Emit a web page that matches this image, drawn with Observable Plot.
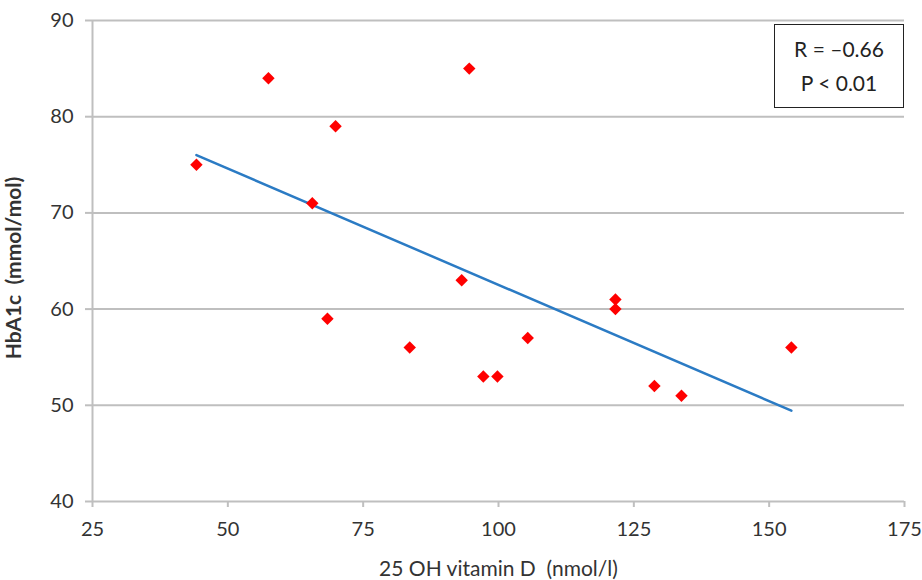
<!DOCTYPE html>
<html>
<head>
<meta charset="utf-8">
<script src="https://cdn.jsdelivr.net/npm/d3@7"></script>
<script src="https://cdn.jsdelivr.net/npm/@observablehq/plot@0.6"></script>
<style>
  html, body { margin: 0; padding: 0; background: #fff; }
  #wrap { position: relative; width: 922px; height: 580px; font-family: Lato, "Open Sans", sans-serif; }
  #stat {
    position: absolute; left: 774px; top: 24px; width: 130px; height: 84px;
    border: 1.5px solid #222; background: #fff; box-sizing: border-box;
    font-family: Lato, "Open Sans", sans-serif; font-size: 21px; color: #222;
    text-align: center; line-height: 34px; padding-top: 7px;
  }
</style>
</head>
<body>
<div id="wrap"></div>
<script>
// Data
const vitaminD = [44.2, 57.5, 69.9, 94.6, 65.6, 68.4, 83.6, 93.2, 97.2, 99.8, 105.4, 121.6, 121.6, 128.8, 133.8, 154.1];
const hba1c    = [75,   84,   79,   85,   71,   59,   56,   63,   53,   53,   57,   61,   60,   52,   51,   56];
const xTicks = [25, 50, 75, 100, 125, 150, 175];
const yTicks = [40, 50, 60, 70, 80, 90];
const statLines = ["R = \u20130.66", "P < 0.01"];
const xLabel = "25 OH vitamin D  (nmol/l)";
const yLabel = "HbA1c  (mmol/mol)";

const data = vitaminD.map((x, i) => ({x, y: hba1c[i]}));
const gridColor = "#bfbfbf";
const textColor = "#333";

const chart = Plot.plot({
  width: 922,
  height: 580,
  marginLeft: 92,
  marginRight: 18,
  marginTop: 20,
  marginBottom: 79,
  style: { fontFamily: "Lato, 'Open Sans', sans-serif", color: textColor, background: "#fff" },
  x: { domain: [25, 175] },
  y: { domain: [40, 90] },
  marks: [
    Plot.gridY(yTicks, { stroke: gridColor, strokeOpacity: 1, strokeWidth: 2 }),
    Plot.ruleX([25], { stroke: gridColor, strokeWidth: 2 }),
    Plot.axisY(yTicks, {
      tickSize: 7, tickPadding: 12, stroke: gridColor, strokeWidth: 2, strokeOpacity: 1,
      fontSize: 20, fill: textColor,
      label: yLabel, labelAnchor: "center", labelArrow: "none", labelOffset: 86
    }),
    Plot.axisX(xTicks, {
      tickSize: 6, tickPadding: 14, stroke: gridColor, strokeWidth: 2, strokeOpacity: 1,
      fontSize: 20, fill: textColor,
      label: xLabel, labelAnchor: "center", labelArrow: "none", labelOffset: 74
    }),
    Plot.linearRegressionY(data, { x: "x", y: "y", stroke: "#2b7bc4", strokeWidth: 2.5, ci: 0 }),
    Plot.dot(data, { x: "x", y: "y", symbol: "diamond2", r: 5.6, fill: "#ff0000", stroke: "none" })
  ]
});

// style axis labels
d3.select(chart).selectAll("[aria-label='y-axis label'] text")
  .attr("font-weight", "bold").attr("font-size", 21).attr("dx", -7);
d3.select(chart).selectAll("[aria-label='x-axis label'] text").attr("font-size", 21);

const wrap = document.getElementById("wrap");
wrap.appendChild(chart);
const box = document.createElement("div");
box.id = "stat";
box.innerHTML = statLines.map(s => `<div>${s}</div>`).join("");
wrap.appendChild(box);
</script>
</body>
</html>
